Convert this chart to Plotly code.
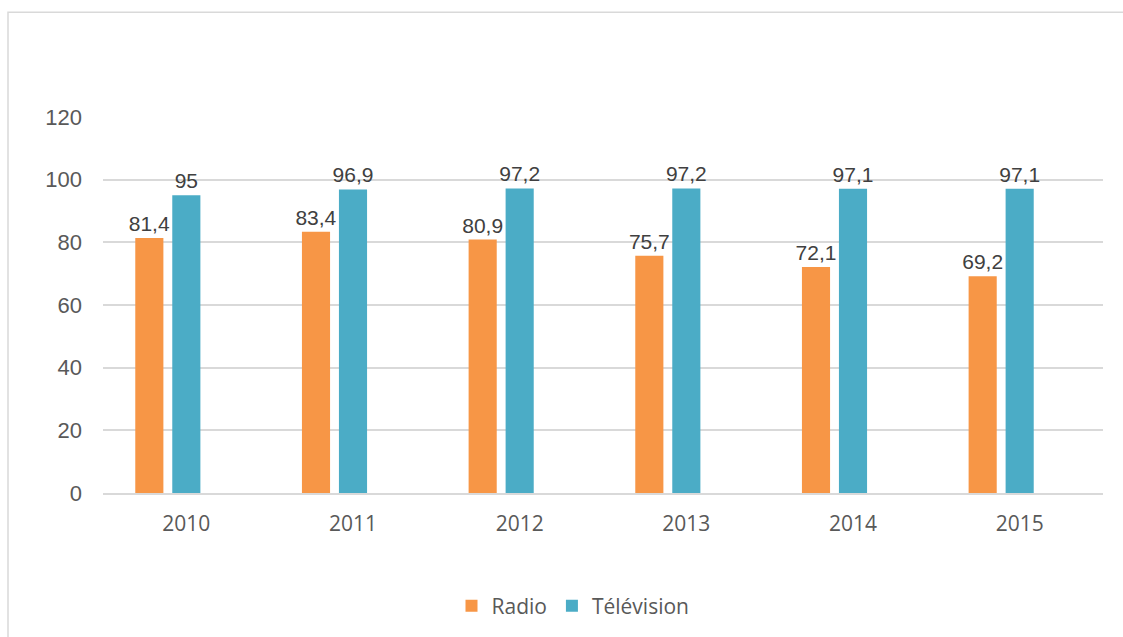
import plotly.graph_objects as go

years = ["2010", "2011", "2012", "2013", "2014", "2015"]
radio = [81.4, 83.4, 80.9, 75.7, 72.1, 69.2]
television = [95, 96.9, 97.2, 97.2, 97.1, 97.1]
y_ticks = [0, 20, 40, 60, 80, 100, 120]

def fr(v):
    s = ("%g" % v)
    return s.replace(".", ",")

ORANGE = "#F79646"
TEAL = "#4BACC6"
LABEL_FONT = dict(family="Liberation Sans, Arial", size=21, color="#404040")

fig = go.Figure()
fig.add_trace(go.Bar(
    x=years, y=radio, name="Radio", marker=dict(color=ORANGE, line=dict(width=0)),
    text=[fr(v) for v in radio], textposition="outside", cliponaxis=False,
    constraintext="none", textfont=LABEL_FONT,
))
fig.add_trace(go.Bar(
    x=years, y=television, name="Télévision", marker=dict(color=TEAL, line=dict(width=0)),
    text=[fr(v) for v in television], textposition="outside", cliponaxis=False,
    constraintext="none", textfont=LABEL_FONT,
))
# empty third series (keeps the bars in the left part of each category, as in the source)
fig.add_trace(go.Bar(x=years, y=[None] * len(years), showlegend=False, hoverinfo="skip"))

W, H = 1123, 637
left_px, right_px, top_px, bottom_px = 103, 1103, 117, 494
ml = left_px
mt = top_px
mr = W - right_px
mb = H - bottom_px
pw = right_px - left_px
ph = bottom_px - top_px

def px_x(p):
    return (p - left_px) / pw

def px_y(p):
    return (bottom_px - p) / ph

fig.update_layout(
    width=W, height=H,
    margin=dict(l=ml, r=mr, t=mt, b=mb),
    plot_bgcolor="white", paper_bgcolor="white",
    barmode="group", bargap=0.334, bargroupgap=0.24,
    xaxis=dict(
        showgrid=False, showline=True, linecolor="#D9D9D9", linewidth=2,
        ticks="", tickfont=dict(family="Open Sans", size=21, color="#595959"),
        ticklabelstandoff=11, fixedrange=True,
    ),
    yaxis=dict(
        range=[0, 120], tickvals=y_ticks, showgrid=True, gridcolor="#D9D9D9", gridwidth=2,
        zeroline=False, showline=False, ticks="",
        tickfont=dict(family="Liberation Sans, Arial", size=22, color="#595959"),
        ticklabelstandoff=20, fixedrange=True,
    ),
    legend=dict(
        orientation="h", x=0.47, xanchor="center", y=px_y(606), yanchor="middle",
        font=dict(family="Open Sans", size=21, color="#595959"),
        itemsizing="constant", traceorder="normal",
    ),
    showlegend=True,
    shapes=[dict(
        type="rect", xref="paper", yref="paper",
        x0=px_x(8), x1=px_x(1160), y0=px_y(700), y1=px_y(12),
        line=dict(color="#D9D9D9", width=1.5), fillcolor="rgba(0,0,0,0)", layer="below",
    )],
)

fig.write_html(
    "out.html",
    config={"displayModeBar": False},
    post_script="document.body.style.margin='0';document.body.style.overflow='hidden';"
                "document.documentElement.style.overflow='hidden';",
)
